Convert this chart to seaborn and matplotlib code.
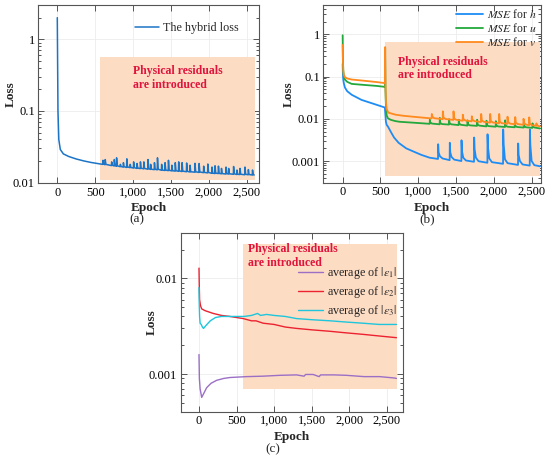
import matplotlib
matplotlib.use("Agg")
import matplotlib.pyplot as plt
import matplotlib.ticker as mticker
import seaborn as sns

# ---------------- data ----------------
# (a) hybrid loss
hybrid_epoch = [0, 4, 9, 20, 40, 80, 150, 250, 350, 450, 570,
                600, 603, 612, 630, 633, 642, 715, 718, 727, 750, 753, 762,
                780, 783, 792, 830, 833, 842, 870, 873, 882, 915, 918, 927,
                960, 963, 972, 1005, 1008, 1017, 1050, 1053, 1062, 1095, 1098, 1107,
                1140, 1143, 1152, 1195, 1198, 1207, 1230, 1233, 1242, 1280, 1283, 1292,
                1320, 1323, 1332, 1375, 1378, 1387, 1420, 1423, 1432, 1465, 1468, 1477,
                1510, 1513, 1522, 1555, 1558, 1567, 1600, 1603, 1612, 1645, 1648, 1657,
                1705, 1708, 1717, 1750, 1753, 1762, 1815, 1818, 1827, 1870, 1873, 1882,
                1930, 1933, 1942, 1985, 1988, 1997, 2040, 2043, 2052, 2080, 2083, 2092,
                2125, 2128, 2137, 2165, 2168, 2177, 2225, 2228, 2237, 2260, 2263, 2272,
                2325, 2328, 2337, 2370, 2373, 2382, 2410, 2413, 2422, 2475, 2478, 2487,
                2520, 2523, 2532, 2575, 2578, 2587, 2600]
hybrid_loss = [2.0, 0.5, 0.1, 0.04, 0.029, 0.0252, 0.0232, 0.0214, 0.0201, 0.0191, 0.0182,
               0.0180, 0.0205, 0.0182, 0.0178, 0.0210, 0.0180, 0.0173, 0.0195, 0.0175,
               0.0171, 0.0210, 0.0173, 0.0169, 0.0222, 0.0172, 0.0167, 0.0180, 0.0168,
               0.0165, 0.0190, 0.0167, 0.0163, 0.0215, 0.0166, 0.0162, 0.0180, 0.0163,
               0.0160, 0.0195, 0.0162, 0.0158, 0.0185, 0.0160, 0.0157, 0.0195, 0.0159,
               0.0156, 0.0195, 0.0158, 0.0154, 0.0210, 0.0157, 0.0153, 0.0180, 0.0154,
               0.0152, 0.0190, 0.0154, 0.0151, 0.0222, 0.0154, 0.0149, 0.0180, 0.0150,
               0.0148, 0.0190, 0.0150, 0.0147, 0.0205, 0.0149, 0.0146, 0.0175, 0.0147,
               0.0145, 0.0190, 0.0147, 0.0144, 0.0195, 0.0146, 0.0143, 0.0190, 0.0145,
               0.0142, 0.0188, 0.0144, 0.0141, 0.0175, 0.0142, 0.0140, 0.0186, 0.0142,
               0.0139, 0.0185, 0.0141, 0.0138, 0.0170, 0.0139, 0.0137, 0.0182, 0.0139,
               0.0135, 0.0165, 0.0136, 0.0134, 0.0172, 0.0136, 0.0134, 0.0170, 0.0135,
               0.0133, 0.0158, 0.0134, 0.0132, 0.0165, 0.0134, 0.0132, 0.0158, 0.0133,
               0.0131, 0.0168, 0.0133, 0.0130, 0.0150, 0.0131, 0.0130, 0.0158, 0.0131,
               0.0129, 0.0165, 0.0131, 0.0129, 0.0152, 0.0130, 0.0128, 0.0150, 0.0129,
               0.0128]

# (b) MSE for h, u, v
h_epoch = [0, 3, 8, 15, 30, 60, 120, 250, 430, 558, 566, 572, 582, 600, 640, 680, 740,
           840, 930, 1040, 1150,
           1261, 1263, 1269, 1286, 1321, 1415, 1417, 1423, 1440, 1475,
           1570, 1572, 1578, 1595, 1630, 1737, 1739, 1745, 1762, 1797,
           1914, 1916, 1922, 1939, 1974, 2121, 2123, 2129, 2146, 2181,
           2319, 2321, 2327, 2344, 2379, 2474, 2476, 2482, 2499, 2534, 2610]
h_mse = [0.2, 0.12, 0.085, 0.07, 0.055, 0.045, 0.037, 0.028, 0.022, 0.0185, 0.012, 0.0085,
         0.0072, 0.0065, 0.0048, 0.0036, 0.0027, 0.002, 0.0017, 0.0014, 0.0012,
         0.00112, 0.0025, 0.0016, 0.0013, 0.00115, 0.00105, 0.0027, 0.0016, 0.00125, 0.00108,
         0.0010, 0.0031, 0.0017, 0.0012, 0.00103, 0.00096, 0.0036, 0.0019, 0.0012, 0.00099,
         0.00091, 0.0043, 0.0021, 0.00115, 0.00094, 0.00086, 0.0056, 0.0025, 0.0011, 0.00089,
         0.00081, 0.0026, 0.0014, 0.0010, 0.00083, 0.00078, 0.0056, 0.0024, 0.0010, 0.0008,
         0.00075]

u_epoch = [0, 3, 8, 15, 30, 60, 120, 300, 450, 558, 562, 566, 572, 582, 600, 640, 700,
           754, 930, 1151, 1153, 1159, 1181, 1283, 1285, 1291, 1313,
           1406, 1408, 1414, 1436, 1534, 1536, 1542, 1564, 1649, 1651, 1657, 1679,
           1777, 1779, 1785, 1807, 1900, 1902, 1908, 1930, 2024, 2026, 2032, 2054,
           2147, 2149, 2155, 2177, 2275, 2277, 2283, 2305, 2394, 2396, 2402, 2424,
           2509, 2511, 2517, 2539, 2610]
u_mse = [0.95, 0.3, 0.14, 0.1, 0.085, 0.075, 0.067, 0.063, 0.06, 0.057, 0.47, 0.05, 0.02,
         0.012, 0.0102, 0.0094, 0.0088, 0.0085, 0.0081, 0.0076, 0.0095, 0.0082, 0.0077,
         0.0074, 0.0105, 0.0080, 0.0075, 0.0073, 0.0098, 0.0079, 0.0074,
         0.0071, 0.0095, 0.0077, 0.0072, 0.0069, 0.0092, 0.0075, 0.0070,
         0.0068, 0.0095, 0.0073, 0.0069, 0.0066, 0.0090, 0.0071, 0.0067,
         0.0065, 0.0088, 0.0070, 0.0066, 0.0064, 0.0092, 0.0069, 0.0065,
         0.0063, 0.0085, 0.0068, 0.0064, 0.0062, 0.0082, 0.0067, 0.0063,
         0.0061, 0.0078, 0.0066, 0.0062, 0.0059]

v_epoch = [0, 3, 8, 15, 30, 60, 120, 300, 450, 558, 562, 566, 572, 582, 604, 700, 800,
           930, 1050, 1177, 1179, 1187, 1212, 1323, 1325, 1333, 1358,
           1464, 1466, 1474, 1499, 1587, 1589, 1597, 1622, 1706, 1708, 1716, 1741,
           1830, 1832, 1840, 1865, 1949, 1951, 1959, 1984, 2068, 2070, 2078, 2103,
           2178, 2180, 2188, 2213, 2280, 2282, 2290, 2315, 2390, 2392, 2400, 2425,
           2465, 2467, 2475, 2500, 2560, 2562, 2570, 2585, 2610]
v_mse = [0.56, 0.25, 0.14, 0.11, 0.097, 0.09, 0.085, 0.079, 0.074, 0.07, 0.5, 0.06, 0.025,
         0.017, 0.014, 0.0125, 0.0118, 0.0112, 0.0107, 0.0102, 0.0130, 0.0112, 0.0103,
         0.0098, 0.0150, 0.0108, 0.0099, 0.0094, 0.0150, 0.0103, 0.0095,
         0.0090, 0.0125, 0.0099, 0.0091, 0.0087, 0.0115, 0.0096, 0.0088,
         0.0084, 0.0130, 0.0092, 0.0085, 0.0081, 0.0130, 0.0089, 0.0082,
         0.0078, 0.0130, 0.0086, 0.0079, 0.0076, 0.0112, 0.0084, 0.0077,
         0.0074, 0.0110, 0.0081, 0.0075, 0.0072, 0.0100, 0.0079, 0.0073,
         0.0070, 0.0108, 0.0077, 0.0071, 0.0068, 0.0078, 0.0070, 0.0068, 0.0066]

# (c) average absolute residuals
e1_epoch = [0, 5, 15, 36, 60, 102, 160, 235, 330, 412, 634, 850, 1077, 1300, 1400, 1420,
            1520, 1600, 1620, 1800, 1963, 2200, 2407, 2600, 2630]
e1_res = [0.0016, 0.0009, 0.0007, 0.00057, 0.00062, 0.00072, 0.0008, 0.00086, 0.0009,
          0.00092, 0.00094, 0.00095, 0.00097, 0.00098, 0.00095, 0.00099, 0.00099, 0.00094,
          0.00098, 0.00098, 0.00097, 0.00094, 0.00094, 0.00091, 0.0009]

e2_epoch = [0, 3, 8, 20, 36, 80, 190, 300, 412, 500, 590, 700, 760, 855, 1000, 1150,
            1299, 1400, 1500, 1742, 1950, 2185, 2400, 2630]
e2_res = [0.0128, 0.009, 0.006, 0.0052, 0.0048, 0.0046, 0.0043, 0.0041, 0.0040, 0.0039,
          0.0038, 0.0036, 0.0036, 0.0034, 0.0033, 0.0031, 0.0030, 0.00295, 0.0029, 0.0028,
          0.0027, 0.0026, 0.0025, 0.0024]

e3_epoch = [0, 3, 8, 15, 30, 45, 60, 90, 150, 220, 300, 450, 600, 700, 780, 820, 900,
            1000, 1150, 1300, 1500, 1750, 1950, 2185, 2400, 2630]
e3_res = [0.0080, 0.0055, 0.0040, 0.0034, 0.0033, 0.0031, 0.0030, 0.0032, 0.0036, 0.0039,
          0.0040, 0.0040, 0.0040, 0.0041, 0.0043, 0.0041, 0.0042, 0.0041, 0.0040, 0.0038,
          0.0037, 0.0036, 0.0035, 0.0034, 0.0033, 0.0033]

# shaded "physical residuals" region per panel: (x0, x1, y0, y1)
region_a = (565, 2610, 0.0109, 0.56)
region_b = (560, 2610, 0.00045, 0.67)
region_c = (590, 2633, 0.00069, 0.0228)

xticks = [0, 500, 1000, 1500, 2000, 2500]
note = "Physical residuals\nare introduced"

# ---------------- style ----------------
sns.set_style("ticks")
plt.rcParams['font.family'] = ['Liberation Serif', 'DejaVu Serif']
plt.rcParams['mathtext.fontset'] = 'stix'

PEACH = '#fddcc4'
NOTE_RED = '#e0143c'


def shade(ax, region):
    x0, x1, y0, y1 = region
    ax.fill_between([x0, x1], y0, y1, color=PEACH, lw=0, zorder=1)


def style_axis(ax, xlim, ylim, ylab_x):
    ax.set_yscale('log')
    ax.set_xlim(*xlim)
    ax.set_ylim(*ylim)
    ax.set_xticks(xticks)
    ax.xaxis.set_major_formatter(mticker.FuncFormatter(lambda v, p: f'{int(v):,}'))
    ax.yaxis.set_major_formatter(mticker.FuncFormatter(lambda v, p: f'{v:g}'))
    ax.yaxis.set_minor_formatter(mticker.NullFormatter())
    ax.tick_params(which='both', direction='in', top=True, right=True,
                   color='#555555', labelsize=9, labelcolor='black', width=0.7)
    ax.tick_params(which='major', length=4, pad=2.5)
    ax.tick_params(which='minor', length=2)
    ax.grid(True, which='major', color='#ececec', lw=0.6, zorder=0)
    ax.set_axisbelow(True)
    for s in ax.spines.values():
        s.set_color('#555555')
        s.set_linewidth(0.8)
    ax.set_xlabel('Epoch', fontweight='bold', fontsize=9.5, va='center')
    ax.set_ylabel('Loss', fontweight='bold', fontsize=9.5, va='center')
    ax.xaxis.set_label_coords(0.5, -0.14)
    ax.yaxis.set_label_coords(ylab_x, 0.5)


fig = plt.figure(figsize=(5.5, 4.65), dpi=100)
axA = fig.add_axes([0.0696, 0.6058, 0.4018, 0.3834])
axB = fig.add_axes([0.5878, 0.6071, 0.3953, 0.3822])
axC = fig.add_axes([0.3285, 0.1146, 0.4036, 0.3837])

# (a)
shade(axA, region_a)
sns.lineplot(x=hybrid_epoch, y=hybrid_loss, ax=axA, color='#1b74c6', lw=1.1,
             sort=False, estimator=None, label='The hybrid loss', zorder=3)
style_axis(axA, (-251, 2667), (0.0098, 3.0), -0.125)
axA.text(0.428, 0.59, note, transform=axA.transAxes, color=NOTE_RED,
         fontweight='bold', fontsize=8.5, ha='left', va='center')
axA.legend(loc='upper left', bbox_to_anchor=(0.437, 0.905), frameon=False,
           borderpad=0, borderaxespad=0, handlelength=2.0, handletextpad=0.3,
           fontsize=8.7)

# (b)
shade(axB, region_b)
sns.lineplot(x=h_epoch, y=h_mse, ax=axB, color='#1e8cf5', lw=1.3,
             sort=False, estimator=None, label='$MSE$ for $h$', zorder=3)
sns.lineplot(x=u_epoch, y=u_mse, ax=axB, color='#22a83c', lw=1.3,
             sort=False, estimator=None, label='$MSE$ for $u$', zorder=3)
sns.lineplot(x=v_epoch, y=v_mse, ax=axB, color='#ff8a1e', lw=1.3,
             sort=False, estimator=None, label='$MSE$ for $v$', zorder=3)
style_axis(axB, (-256, 2619), (3.07e-4, 4.95), -0.158)
axB.text(0.344, 0.643, note, transform=axB.transAxes, color=NOTE_RED,
         fontweight='bold', fontsize=8.5, ha='left', va='center')
axB.legend(loc='upper right', bbox_to_anchor=(0.98, 0.985), frameon=False,
           borderpad=0, borderaxespad=0, handlelength=2.3, handletextpad=0.3,
           fontsize=8.4, labelspacing=0.12)

# (c)
shade(axC, region_c)
sns.lineplot(x=e1_epoch, y=e1_res, ax=axC, color='#9b6fc6', lw=1.0,
             sort=False, estimator=None, label=r'average of $|\varepsilon_1|$', zorder=3)
sns.lineplot(x=e2_epoch, y=e2_res, ax=axC, color='#ec2230', lw=1.0,
             sort=False, estimator=None, label=r'average of $|\varepsilon_2|$', zorder=3)
sns.lineplot(x=e3_epoch, y=e3_res, ax=axC, color='#1ec6dc', lw=1.0,
             sort=False, estimator=None, label=r'average of $|\varepsilon_3|$', zorder=3)
style_axis(axC, (-244, 2713), (4.04e-4, 0.0296), -0.131)
axC.text(0.302, 0.872, note, transform=axC.transAxes, color=NOTE_RED,
         fontweight='bold', fontsize=8.5, ha='left', va='center')
axC.legend(loc='upper left', bbox_to_anchor=(0.527, 0.82), frameon=False,
           borderpad=0, borderaxespad=0, handlelength=2.1, handletextpad=0.3,
           fontsize=8.7, labelspacing=0.25)

fig.text(0.249, 0.528, '(a)', ha='center', va='center', fontsize=9.5)
fig.text(0.776, 0.528, '(b)', ha='center', va='center', fontsize=9.5)
fig.text(0.496, 0.034, '(c)', ha='center', va='center', fontsize=9.5)

fig.savefig('out.png', dpi=100)
